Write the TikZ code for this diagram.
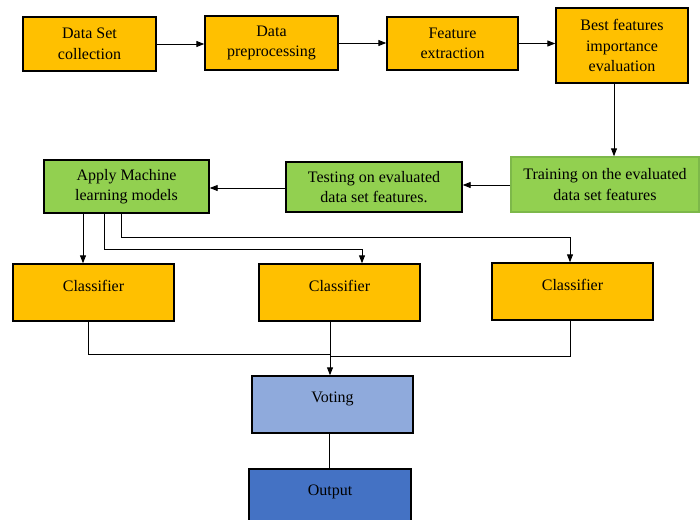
\documentclass[tikz,border=0pt]{standalone}
\usepackage{fontspec}
\setmainfont{Liberation Serif}
\usetikzlibrary{arrows.meta}
\definecolor{orng}{HTML}{FFC000}
\definecolor{grn}{HTML}{92D050}
\definecolor{grnb}{HTML}{7DB84A}
\definecolor{lblue}{HTML}{8FAADC}
\definecolor{dblue}{HTML}{4472C4}
\tikzset{
  box/.style={draw=black, line width=1.4pt, rectangle, align=center, inner sep=2pt,
    font=\fontsize{16}{20.5}\selectfont},
  obox/.style={box, fill=orng},
  gbox/.style={box, fill=grn},
  raised/.style={text depth=14pt},
  arr/.style={-{Triangle[length=8pt,width=6pt]}, line width=0.9pt},
  ln/.style={line width=0.9pt},
}
\begin{document}
\begin{tikzpicture}[x=1pt,y=-1pt]
\useasboundingbox (0,0) rectangle (700,519);
\node[obox, minimum width=133, minimum height=54] (ds) at (89.5,44) {Data Set\\collection};
\node[obox, minimum width=133, minimum height=54] (dp) at (271.5,43) {Data\\preprocessing};
\node[obox, minimum width=131, minimum height=53] (fe) at (452.5,43.5) {Feature\\extraction};
\node[obox, minimum width=132, minimum height=75] (bf) at (622,45.5) {Best features\\importance\\evaluation};
\node[gbox, draw=grnb, minimum width=188, minimum height=55] (tr) at (605,184.5) {Training on the evaluated\\data set features};
\node[gbox, minimum width=176, minimum height=50] (te) at (374,187) {Testing on evaluated\\data set features.};
\node[gbox, minimum width=165, minimum height=53] (ap) at (126.5,186.5) {Apply Machine\\learning models};
\node[obox, raised, minimum width=161, minimum height=57] (c1) at (93.5,292.5) {Classifier};
\node[obox, raised, minimum width=161, minimum height=57] (c2) at (339.5,292.5) {Classifier};
\node[obox, raised, minimum width=161, minimum height=57] (c3) at (572.5,291.5) {Classifier};
\node[box, raised, fill=lblue, minimum width=161, minimum height=57] (vo) at (332.5,404.5) {Voting};
\node[box, raised, fill=dblue, minimum width=162, minimum height=56] (ou) at (330,497) {Output};

\draw[arr] (ds.east) -- (ds.east -| dp.west);
\draw[arr] (dp.east) -- (dp.east -| fe.west);
\draw[arr] (fe.east) -- (fe.east -| bf.west);
\draw[arr] (bf.south -| 614,0) -- (tr.north -| 614,0);
\draw[arr] (tr.west |- 0,185) -- (te.east |- 0,185);
\draw[arr] (te.west |- 0,188) -- (ap.east |- 0,188);

\draw[arr] (ap.south -| 83,0) -- (c1.north -| 83,0);
\draw[arr] (ap.south -| 104,0) |- (362,249) -- (c2.north -| 362,0);
\draw[arr] (ap.south -| 121,0) |- (570,237) -- (c3.north -| 570,0);

\draw[ln] (c1.south -| 88,0) |- (331,354);
\draw[ln] (c3.south -| 570,0) |- (331,356);
\draw[arr] (c2.south -| 330,0) -- (vo.north -| 330,0);
\draw[ln] (vo.south -| 329,0) -- (ou.north -| 329,0);
\end{tikzpicture}
\end{document}
